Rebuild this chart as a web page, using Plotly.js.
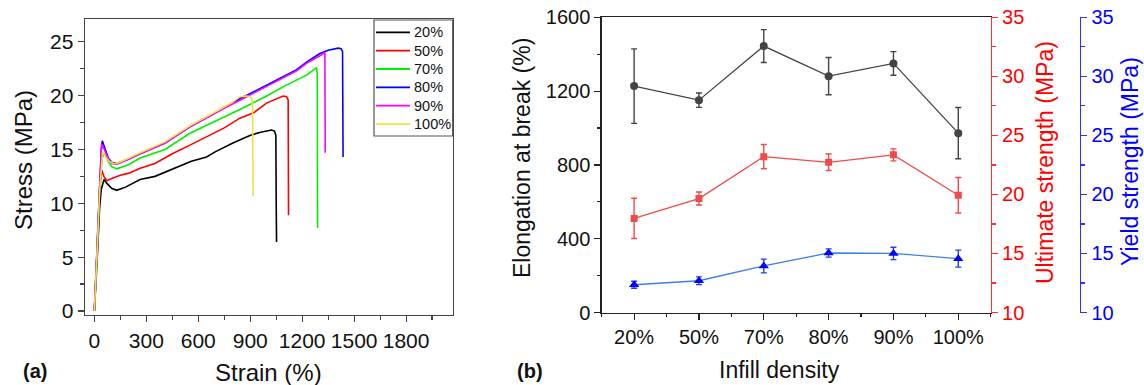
<!DOCTYPE html>
<html><head><meta charset="utf-8">
<script src="https://cdn.plot.ly/plotly-3.0.1.min.js"></script>
<style>html,body{margin:0;padding:0;background:#fff}#chart{width:1144px;height:385px}</style>
</head><body><div id="chart"></div><script>
// ---------- (a) stress-strain curves ----------
const seriesNames = ['20%', '50%', '70%', '80%', '90%', '100%'];
const seriesColors = ['#000000', '#ff0000', '#00ee00', '#0000ff', '#ff00ff', '#f0e040'];

const strain20 = [0, 10, 20, 30, 40, 56, 75, 100, 129, 180, 264, 350, 408, 500, 560, 648, 700, 800, 898, 960, 1000, 1023, 1040, 1048, 1050, 1052];
const stress20 = [0, 2.5, 6, 9.5, 11.3, 12.2, 11.8, 11.4, 11.2, 11.5, 12.2, 12.5, 12.9, 13.5, 13.9, 14.3, 14.8, 15.6, 16.3, 16.6, 16.75, 16.8, 16.7, 16.3, 10, 6.4];

const strain50 = [0, 10, 20, 30, 42, 55, 72, 100, 150, 200, 264, 350, 450, 552, 650, 750, 840, 920, 994, 1050, 1090, 1110, 1119, 1121];
const stress50 = [0, 3, 7, 11, 13.1, 12.5, 12.1, 12.3, 12.6, 12.8, 13.25, 13.7, 14.6, 15.4, 16.2, 17.0, 17.9, 18.4, 19.3, 19.7, 19.96, 19.9, 19.6, 8.9];

const strain70 = [0, 10, 20, 30, 45, 56, 80, 100, 129, 200, 264, 408, 552, 700, 840, 1000, 1100, 1225, 1283, 1287, 1289];
const stress70 = [0, 3, 7.5, 11.5, 14.2, 14.6, 13.9, 13.4, 13.2, 13.6, 14.2, 15.0, 16.5, 17.6, 18.7, 20.0, 20.9, 21.9, 22.6, 22.0, 7.7];

const strain80 = [0, 10, 20, 30, 40, 46, 60, 80, 100, 129, 200, 264, 408, 552, 700, 840, 1000, 1168, 1225, 1302, 1350, 1408, 1425, 1433, 1436];
const stress80 = [0, 3.5, 8, 12, 15, 15.8, 15.2, 14.2, 13.8, 13.7, 14.1, 14.6, 15.6, 17.1, 18.4, 19.7, 21.0, 22.4, 23.1, 23.9, 24.2, 24.4, 24.35, 24.1, 14.3];

const strain90 = [0, 10, 20, 30, 42, 60, 80, 100, 129, 200, 264, 408, 552, 700, 840, 1000, 1168, 1225, 1302, 1331, 1333];
const stress90 = [0, 3.5, 8, 12, 15.5, 14.9, 14.1, 13.7, 13.6, 14.1, 14.6, 15.6, 17.1, 18.4, 19.6, 20.9, 22.3, 23.0, 23.7, 24.0, 14.7];

const strain100 = [0, 10, 20, 30, 48, 65, 85, 110, 129, 200, 264, 408, 552, 700, 800, 840, 879, 900, 908, 913, 917];
const stress100 = [0, 3, 7, 11, 14.8, 14.3, 13.9, 13.7, 13.7, 14.2, 14.7, 15.7, 17.2, 18.5, 19.4, 19.9, 19.96, 19.9, 19.75, 19.2, 10.7];

const strainTicks = [0, 300, 600, 900, 1200, 1500, 1800];
const stressTicks = [0, 5, 10, 15, 20, 25];

// ---------- (b) properties vs infill density ----------
const categories = ['20%', '50%', '70%', '80%', '90%', '100%'];
const elongation = [1227, 1151, 1444, 1281, 1350, 972];
const elongationErr = [202, 39, 89, 101, 64, 139];
const ultimate = [17.97, 19.65, 23.2, 22.72, 23.35, 19.93];
const ultimateErr = [1.7, 0.55, 1.03, 0.7, 0.51, 1.5];
const yieldStrength = [12.35, 12.69, 13.94, 15.04, 15.0, 14.56];
const yieldErr = [0.3, 0.33, 0.58, 0.35, 0.52, 0.72];
const elongTicks = [0, 400, 800, 1200, 1600];
const strengthTicks = [10, 15, 20, 25, 30, 35];

// ---------- build ----------
const W = 1144, H = 385;
const fx = p => p / W;
const fy = p => 1 - p / H;
const FONT = 'Liberation Sans, Arial, Helvetica, sans-serif';

const curves = [[strain20, stress20], [strain50, stress50], [strain70, stress70], [strain80, stress80], [strain90, stress90], [strain100, stress100]];
const traces = curves.map((c, i) => ({
  type: 'scatter', mode: 'lines', x: c[0], y: c[1], name: seriesNames[i], showlegend: false,
  line: {color: seriesColors[i], width: 1.6}, xaxis: 'x', yaxis: 'y'
}));

const idx = categories.map((c, i) => i);
traces.push({
  type: 'scatter', mode: 'lines+markers', x: idx, y: elongation, name: 'Elongation at break', showlegend: false,
  line: {color: '#444444', width: 1.3}, marker: {symbol: 'circle', size: 8, color: '#444444'},
  error_y: {type: 'data', array: elongationErr, visible: true, color: '#444444', thickness: 1.4, width: 3},
  xaxis: 'x2', yaxis: 'y2'
});
traces.push({
  type: 'scatter', mode: 'lines+markers', x: idx, y: ultimate, name: 'Ultimate strength', showlegend: false,
  line: {color: '#f04a4a', width: 1.3}, marker: {symbol: 'square', size: 7, color: '#f04a4a'},
  error_y: {type: 'data', array: ultimateErr, visible: true, color: '#f04a4a', thickness: 1.4, width: 3},
  xaxis: 'x2', yaxis: 'y3'
});
traces.push({
  type: 'scatter', mode: 'lines+markers', x: idx, y: yieldStrength, name: 'Yield strength', showlegend: false,
  line: {color: '#3d7fe8', width: 1.3}, marker: {symbol: 'triangle-up', size: 9, color: '#0000ff'},
  error_y: {type: 'data', array: yieldErr, visible: true, color: '#2a3cf0', thickness: 1.4, width: 3},
  xaxis: 'x2', yaxis: 'y4'
});

const axBase = {
  showgrid: false, zeroline: false, showline: true, linewidth: 1.4,
  ticks: 'outside', ticklen: 6, tickwidth: 1.2
};

// legend of panel (a), drawn as a boxed key
const LEG = {left: 374, right: 452.7, top: 20, bottom: 136, row0: 32.3, rowStep: 18.35, lineX0: 376, lineX1: 410, textX: 412};
const legendShapes = [{type: 'rect', xref: 'paper', yref: 'paper', x0: fx(LEG.left), x1: fx(LEG.right), y0: fy(LEG.bottom), y1: fy(LEG.top),
  line: {color: '#555555', width: 1.2}, fillcolor: '#ffffff', layer: 'above'}];
const legendTexts = [];
seriesNames.forEach((n, i) => {
  const yy = LEG.row0 + i * LEG.rowStep;
  legendShapes.push({type: 'line', xref: 'paper', yref: 'paper', x0: fx(LEG.lineX0), x1: fx(LEG.lineX1), y0: fy(yy), y1: fy(yy),
    line: {color: seriesColors[i], width: 1.8}, layer: 'above'});
  legendTexts.push({text: n, x: fx(LEG.textX), y: fy(yy), xanchor: 'left', font: {size: 14.5, color: '#111111'}});
});

const layout = {
  width: W, height: H, margin: {l: 0, r: 0, t: 0, b: 0},
  paper_bgcolor: '#ffffff', plot_bgcolor: '#ffffff',
  font: {family: FONT, color: '#111111', size: 20},
  showlegend: false,
  xaxis: Object.assign({}, axBase, {
    domain: [fx(85), fx(452.7)], anchor: 'y', range: [-54, 2069],
    tickvals: strainTicks, ticktext: strainTicks.map(String), mirror: true,
    linecolor: '#444444', tickcolor: '#444444', tickfont: {size: 21},
    minor: {dtick: 150, tick0: 0, ticks: 'outside', ticklen: 3.5, tickcolor: '#444444', showgrid: false}
  }),
  yaxis: Object.assign({}, axBase, {
    domain: [fy(315), fy(19.3)], anchor: 'x', range: [-0.37, 27.08],
    tickvals: stressTicks, ticktext: stressTicks.map(String), mirror: true,
    linecolor: '#444444', tickcolor: '#444444', tickfont: {size: 21},
    minor: {dtick: 2.5, tick0: 0, ticks: 'outside', ticklen: 3.5, tickcolor: '#444444', showgrid: false}
  }),
  xaxis2: Object.assign({}, axBase, {
    domain: [fx(601.7), fx(990.7)], anchor: 'y2', range: [-0.5, 5.5],
    tickvals: idx, ticktext: categories, mirror: true,
    linecolor: '#222222', tickcolor: '#222222', tickfont: {size: 20},
    minor: {dtick: 0.5, tick0: 0, ticks: 'outside', ticklen: 3.5, tickcolor: '#222222', showgrid: false}
  }),
  yaxis2: Object.assign({}, axBase, {
    domain: [fy(312.5), fy(17.3)], anchor: 'x2', range: [0, 1600],
    tickvals: elongTicks, ticktext: elongTicks.map(String),
    linecolor: '#222222', tickcolor: '#222222', tickfont: {size: 20},
    minor: {dtick: 200, tick0: 0, ticks: 'outside', ticklen: 3.5, tickcolor: '#222222', showgrid: false}
  }),
  yaxis3: Object.assign({}, axBase, {
    overlaying: 'y2', side: 'right', anchor: 'x2', range: [10, 35],
    tickvals: strengthTicks, ticktext: strengthTicks.map(String),
    linecolor: '#ff3030', tickcolor: '#ff3030', tickfont: {size: 20, color: '#ff0000'},
    minor: {dtick: 2.5, tick0: 10, ticks: 'outside', ticklen: 3.5, tickcolor: '#ff3030', showgrid: false}
  }),
  yaxis4: Object.assign({}, axBase, {
    overlaying: 'y2', side: 'right', anchor: 'free', position: fx(1080), range: [10, 35],
    tickvals: strengthTicks, ticktext: strengthTicks.map(String),
    linecolor: '#3030ff', tickcolor: '#3030ff', tickfont: {size: 20, color: '#0000ff'},
    minor: {dtick: 2.5, tick0: 10, ticks: 'outside', ticklen: 3.5, tickcolor: '#3030ff', showgrid: false}
  }),
  shapes: legendShapes,
  annotations: [
    {text: 'Stress (MPa)', x: fx(23), y: fy(160), textangle: -90, font: {size: 24}},
    {text: 'Strain (%)', x: fx(268), y: fy(372), font: {size: 24}},
    {text: '<b>(a)</b>', x: fx(35), y: fy(371), font: {size: 20}},
    {text: '<b>(b)</b>', x: fx(530), y: fy(371), font: {size: 20}},
    {text: 'Infill density', x: fx(780), y: fy(385), yanchor: 'bottom', font: {size: 23}},
    {text: 'Elongation at break (%)', x: fx(522), y: fy(158), textangle: -90, font: {size: 23}},
    {text: 'Ultimate strength (MPa)', x: fx(1045), y: fy(163), textangle: -90, font: {size: 23, color: '#ff0000'}},
    {text: 'Yield strength (MPa)', x: fx(1130), y: fy(162), textangle: -90, font: {size: 23, color: '#0000ff'}}
  ].concat(legendTexts).map(a => Object.assign({xref: 'paper', yref: 'paper', showarrow: false, xanchor: 'center', yanchor: 'middle'}, a))
};

Plotly.newPlot('chart', traces, layout, {staticPlot: true, displayModeBar: false});
</script></body></html>
